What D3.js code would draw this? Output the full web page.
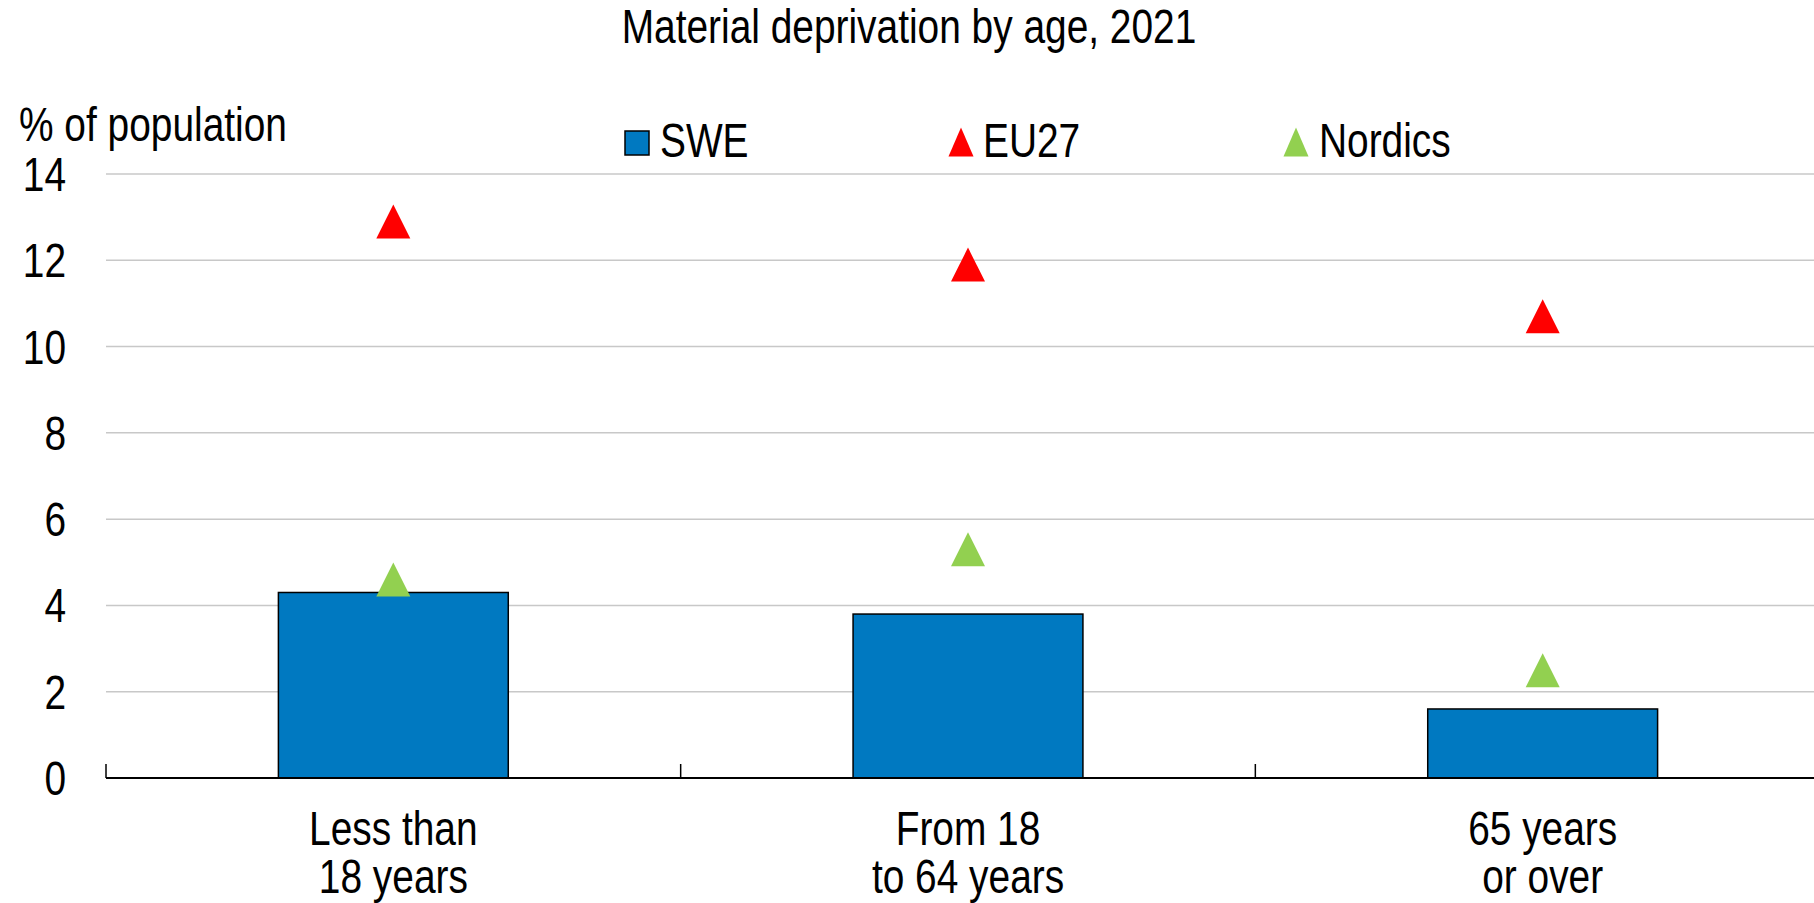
<!DOCTYPE html>
<html>
<head>
<meta charset="utf-8">
<script src="https://cdn.jsdelivr.net/npm/d3@7.9.0/dist/d3.min.js"></script>
<style>
  body { margin: 0; background: #fff; }
  svg text { font-family: "Liberation Sans", Arial, sans-serif; fill: #000; }
</style>
</head>
<body>
<svg id="chart" width="1814" height="903"></svg>
<script>
const categories = [["Less than", "18 years"], ["From 18", "to 64 years"], ["65 years", "or over"]];
const swe = [4.3, 3.8, 1.6];
const eu27 = [12.9, 11.9, 10.7];
const nordics = [4.6, 5.3, 2.5];
const yTicks = [0, 2, 4, 6, 8, 10, 12, 14];

const fontSize = 48;
const narrow = 0.81; // squeeze Liberation Sans to look like Arial Narrow
const svg = d3.select('#chart');

function label(parent, x, y, str, anchor) {
  return parent.append('text')
    .attr('transform', `translate(${x},${y}) scale(${narrow},1)`)
    .attr('text-anchor', anchor || 'start')
    .attr('font-size', fontSize)
    .text(str);
}

let x = d3.scaleBand()
  .domain(d3.range(categories.length))
  .range([106, 1830])
  .paddingInner(0.6)
  .paddingOuter(0.3);

let y = d3.scaleLinear().domain([0, 14]).range([778, 174]);

// titles
label(svg, 909, 43, 'Material deprivation by age, 2021', 'middle');
label(svg, 19, 141, '% of population');

// gridlines
svg.append('g').selectAll('line')
  .data(yTicks.filter(d => d > 0))
  .enter().append('line')
  .attr('x1', 106).attr('x2', 1814)
  .attr('y1', d => y(d)).attr('y2', d => y(d))
  .attr('stroke', '#c8c8c8')
  .attr('stroke-width', 1.5);

// y tick labels
let yLabels = svg.append('g');
yTicks.forEach(d => label(yLabels, 66, y(d) + 17, d, 'end'));

// bars
svg.append('g').selectAll('rect')
  .data(swe)
  .enter().append('rect')
  .attr('x', (d, i) => x(i))
  .attr('y', d => y(d))
  .attr('width', x.bandwidth())
  .attr('height', d => y(0) - y(d))
  .attr('fill', '#0079c1')
  .attr('stroke', '#000')
  .attr('stroke-width', 1.5);

// axis line and category ticks
svg.append('line')
  .attr('x1', 106).attr('x2', 1814)
  .attr('y1', y(0)).attr('y2', y(0))
  .attr('stroke', '#000').attr('stroke-width', 2);

let step = x.step();
svg.append('g').selectAll('line')
  .data(d3.range(categories.length))
  .enter().append('line')
  .attr('x1', i => 106 + i * step).attr('x2', i => 106 + i * step)
  .attr('y1', y(0)).attr('y2', y(0) - 14)
  .attr('stroke', '#000').attr('stroke-width', 1.5);

// triangle marker, w wide and h tall, centered on the point
const tri = (w, h) => `M0,${-h / 2}L${w / 2},${h / 2}L${-w / 2},${h / 2}Z`;

function markers(values, color) {
  svg.append('g').selectAll('path')
    .data(values)
    .enter().append('path')
    .attr('d', tri(34, 34))
    .attr('transform', (d, i) => `translate(${x(i) + x.bandwidth() / 2},${y(d)})`)
    .attr('fill', color);
}
markers(eu27, '#ff0000');
markers(nordics, '#92d050');

// category labels, two lines each
let cat = svg.append('g');
categories.forEach((lines, i) => {
  let cx = x(i) + x.bandwidth() / 2;
  label(cat, cx, 845, lines[0], 'middle');
  label(cat, cx, 893, lines[1], 'middle');
});

// legend
let legend = svg.append('g');
legend.append('rect')
  .attr('x', 625).attr('y', 131).attr('width', 24).attr('height', 24)
  .attr('fill', '#0079c1').attr('stroke', '#000').attr('stroke-width', 1.5);
label(legend, 660, 157, 'SWE');
legend.append('path').attr('d', tri(25, 29)).attr('transform', 'translate(961,142)').attr('fill', '#ff0000');
label(legend, 983, 157, 'EU27');
legend.append('path').attr('d', tri(25, 29)).attr('transform', 'translate(1296,142)').attr('fill', '#92d050');
label(legend, 1319, 157, 'Nordics');
</script>
</body>
</html>
